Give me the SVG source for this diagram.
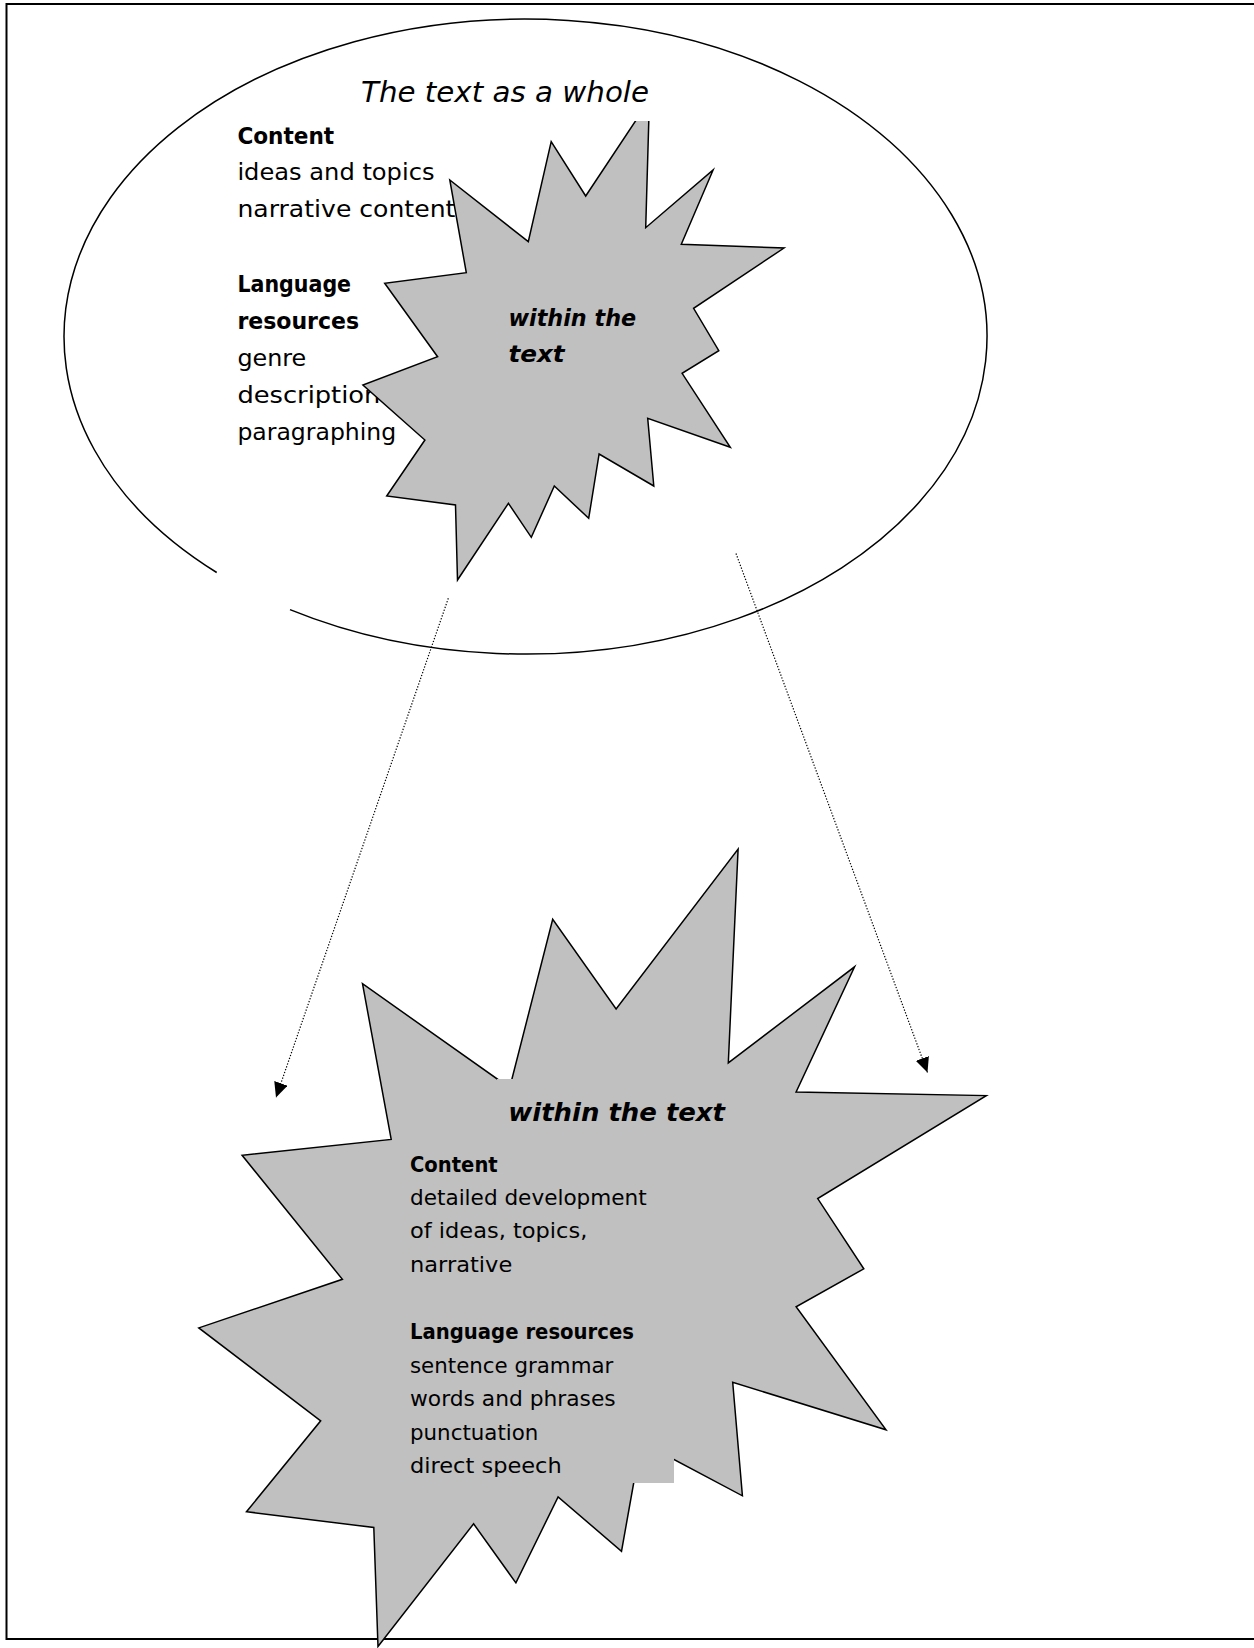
<svg xmlns="http://www.w3.org/2000/svg" width="1254" height="1648" viewBox="0 0 1254 1648">
<style>
.frame{fill:none;stroke:#000;stroke-width:2}
.ell{fill:none;stroke:#000;stroke-width:1.5}
.star{fill:#C0C0C0;stroke:#000;stroke-width:1.5;stroke-linejoin:miter;stroke-miterlimit:20}
.t{font-family:'DejaVu Sans','Liberation Sans',sans-serif;font-size:23.5px;fill:#000}
.s{font-size:21.5px}
.b{font-weight:bold}
.bi{font-weight:bold;font-style:italic}
.conn{fill:none;stroke:#000;stroke-width:1.2;stroke-dasharray:1.3 1.7}
</style>
<defs>
<marker id="arr" markerWidth="15" markerHeight="14" refX="15" refY="7" orient="auto" markerUnits="userSpaceOnUse">
<path d="M0,0 L15,7 L0,14 z" fill="#000"/>
</marker>
<clipPath id="boxclip"><rect x="400" y="1140" width="274" height="337"/></clipPath>
</defs>
<rect width="1254" height="1648" fill="#fff"/>
<path class="frame" d="M1256,4 H6.5 V1639 H1256"/>

<g id="whole">
<path class="ell" d="M290,609.6 A461.5 317.5 0 1 0 216.7,572.5"/>
<text class="t b" x="237.4" y="143.5" textLength="96.8" lengthAdjust="spacingAndGlyphs">Content</text>
<text class="t" x="237.4" y="180.3" textLength="197.1" lengthAdjust="spacingAndGlyphs">ideas and topics</text>
<text class="t" x="237.4" y="217.1" textLength="218" lengthAdjust="spacingAndGlyphs">narrative content</text>
<text class="t b" x="237.4" y="291.5" textLength="113.7" lengthAdjust="spacingAndGlyphs">Language</text>
<text class="t b" x="237.4" y="328.5" textLength="121.7" lengthAdjust="spacingAndGlyphs">resources</text>
<text class="t" x="237.4" y="365.5" textLength="68.9" lengthAdjust="spacingAndGlyphs">genre</text>
<text class="t" x="237.4" y="402.5" textLength="143" lengthAdjust="spacingAndGlyphs">description</text>
<text class="t" x="237.4" y="439.5" textLength="158.8" lengthAdjust="spacingAndGlyphs">paragraphing</text>
</g>

<g id="star-top">
<polygon class="star" points="649.4,100 645.7,227.7 713.1,170 681.3,244.3 784,248 693.6,308.3 718.8,350.7 682.1,373.3 730.3,447.3 647.7,418.3 653.8,486 599.1,454 588.7,518.3 554.3,486 531.3,537.3 508.4,503.3 457.5,580 455.5,505 386.7,496 424.9,440 362.9,385 437.6,356.7 384.7,283.3 466.3,272.7 449.8,180 528.3,241.7 551.2,141.7 585.7,196"/>
<text class="t bi" style="font-size:23px" x="508.4" y="326" textLength="127.8" lengthAdjust="spacingAndGlyphs">within the</text>
<text class="t bi" style="font-size:23px" x="508.4" y="361.7" textLength="56.3" lengthAdjust="spacingAndGlyphs">text</text>
</g>

<g id="title">
<rect x="350" y="55" width="310" height="66" fill="#fff"/>
<text class="t" style="font-size:29px;font-style:italic" x="361" y="102" textLength="288" lengthAdjust="spacingAndGlyphs">The text as a whole</text>
</g>

<g id="connectors">
<line class="conn" x1="448.3" y1="598.3" x2="276" y2="1097.5" marker-end="url(#arr)"/>
<line class="conn" x1="736" y1="553.5" x2="927.5" y2="1072.5" marker-end="url(#arr)"/>
</g>

<g id="star-bottom">
<polygon class="star" points="738.1,849 728.3,1062.9 854.6,966.8 796.1,1091.9 986.3,1095.6 817.7,1198.6 863.8,1268.8 796.1,1306.8 886,1429.8 732.7,1382.3 742.4,1495.8 641,1442 621.5,1551.3 558.1,1496.9 515.9,1582.9 473.6,1523.8 378,1646.5 373.8,1527.5 246.5,1511.7 320.7,1420.8 198.8,1327.9 342.4,1279.3 242.1,1155.3 391.2,1139.4 362.5,983.7 509.7,1087.8 552.7,919.3 616.1,1009"/>
<rect x="497" y="1079" width="250" height="62" fill="#C0C0C0"/>
<rect x="400" y="1140" width="274" height="343" fill="#C0C0C0"/>
<text class="t bi" style="font-size:25px" x="508.3" y="1120.7" textLength="216.7" lengthAdjust="spacingAndGlyphs">within the text</text>
<g clip-path="url(#boxclip)">
<text class="t s b" x="410" y="1171.7" textLength="87.7" lengthAdjust="spacingAndGlyphs">Content</text>
<text class="t s" x="410" y="1205" textLength="236.7" lengthAdjust="spacingAndGlyphs">detailed development</text>
<text class="t s" x="410" y="1238.3" textLength="177.3" lengthAdjust="spacingAndGlyphs">of ideas, topics,</text>
<text class="t s" x="410" y="1272.3" textLength="102.3" lengthAdjust="spacingAndGlyphs">narrative</text>
<text class="t s b" x="410" y="1339.3" textLength="224" lengthAdjust="spacingAndGlyphs">Language resources</text>
<text class="t s" x="410" y="1372.7" textLength="203.3" lengthAdjust="spacingAndGlyphs">sentence grammar</text>
<text class="t s" x="410" y="1406" textLength="205.7" lengthAdjust="spacingAndGlyphs">words and phrases</text>
<text class="t s" x="410" y="1440" textLength="128.3" lengthAdjust="spacingAndGlyphs">punctuation</text>
<text class="t s" x="410" y="1473.3" textLength="151.7" lengthAdjust="spacingAndGlyphs">direct speech</text>
</g>
</g>
</svg>
